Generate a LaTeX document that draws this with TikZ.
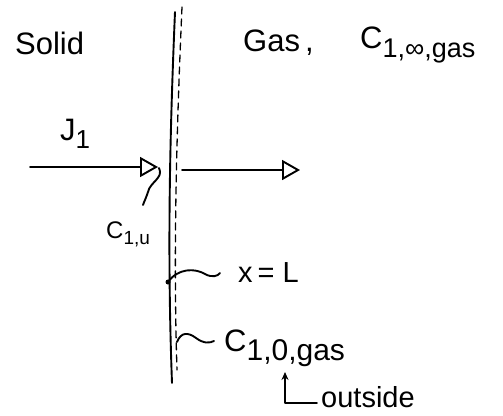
\documentclass[tikz,border=0pt]{standalone}
\usepackage{fontspec}
\setmainfont{Liberation Sans}
\usetikzlibrary{arrows.meta}
\newcommand{\sbs}[2]{{\fontsize{#1}{#1}\selectfont\raisebox{-0.3em}{#2}}}
\begin{document}
\begin{tikzpicture}[x=1pt,y=-1pt,
  ink/.style={line width=1.9pt, line cap=round, line join=round},
  flux/.style={ink, -{Triangle[open, length=18pt, width=20pt, line width=1.9pt]}},
  lbl/.style={font=\fontsize{31}{34}\selectfont, inner sep=0pt},
  mlbl/.style={font=\fontsize{29}{32}\selectfont, inner sep=0pt},
  slbl/.style={font=\fontsize{24}{26}\selectfont, inner sep=0pt}]
\useasboundingbox (0,0) rectangle (503,415);
% interface
\coordinate (wt) at (175,12);
\coordinate (wb) at (172,383);
\draw[ink] (wt) .. controls (170,130) and (167,250) .. (wb);
\coordinate (dt) at (182,7);
\coordinate (db) at (177,370);
\draw[ink, line width=1.3pt, dash pattern=on 7pt off 5pt] (dt) .. controls (177,120) and (173,250) .. (db);
% labels
\node[lbl, anchor=west] (solid) at (15,43) {Solid};
\node[lbl, anchor=west] (gas) at (243,43) {Gas\,,};
\node[lbl, anchor=west] (cinf) at (360,45) {C\sbs{27}{1,∞,gas}};
\node[lbl, anchor=west] (J) at (60,134) {J\sbs{26}{1}};
% flux arrows
\coordinate (a1s) at (30,167);
\coordinate (a1e) at (158,167);
\draw[flux] (a1s) -- (a1e);
\coordinate (a2s) at (182,170);
\coordinate (a2e) at (300,170);
\draw[flux] (a2s) -- (a2e);
% C_{1,u}
\node[slbl, anchor=west] (cu) at (106,234) {C\sbs{19}{1,u}};
\coordinate (sq1) at (159,168);
\coordinate (sq1e) at (143,205);
\draw[ink] (sq1) .. controls (164,178) and (150,182) .. (148,192) .. controls (146,198) and (144,202) .. (sq1e);
% x = L
\coordinate (dot) at (168,282);
\fill (dot) circle (2.5pt);
\node[mlbl, anchor=west] (xl) at (238,273) {x\,= L};
\draw[ink] (dot) .. controls (178,268) and (195,268) .. (205,274) .. controls (212,278) and (218,276) .. (220,273);
% C_{1,0,gas}
\node[lbl, anchor=west] (c0) at (224,348) {C\sbs{30}{1,0,gas}};
\coordinate (sq2) at (177,342);
\draw[ink] (sq2) .. controls (181,332) and (188,332) .. (196,338) .. controls (204,344) and (210,343) .. (214,341);
% outside
\node[mlbl, anchor=west] (out) at (321,397) {outside};
\coordinate (corner) at (285,403);
\coordinate (up) at (285,372);
\coordinate (hs) at (317,403);
\draw[ink, -{Stealth[length=8pt, width=7pt, open]}] (hs) -- (corner) -- (up);
\end{tikzpicture}
\end{document}
